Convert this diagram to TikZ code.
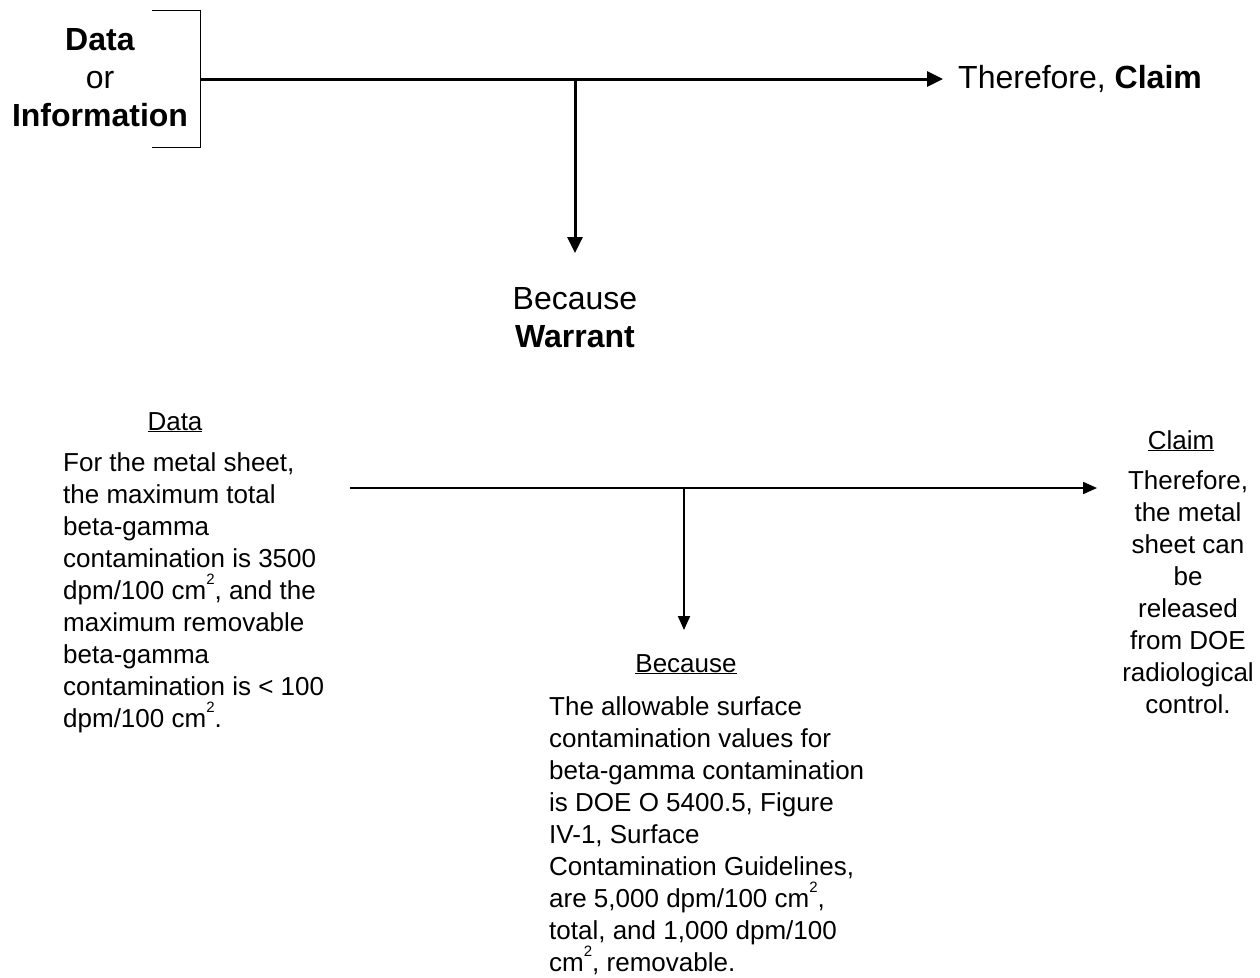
\documentclass[tikz,border=0pt]{standalone}
\usepackage{fontspec}
\setmainfont{Liberation Sans}
\usetikzlibrary{arrows.meta}
\newcommand{\sqr}{\raisebox{0.55em}{\fontsize{15}{15}\selectfont 2}}
\begin{document}
\begin{tikzpicture}[x=1pt,y=-1pt,
  big/.style={font=\fontsize{32}{38}\selectfont, inner sep=0pt, align=center},
  body/.style={font=\fontsize{26}{32}\selectfont, inner sep=0pt},
  heavy/.style={line width=3pt, -{Triangle[length=16pt,width=15pt]}},
  light/.style={line width=2pt, -{Triangle[length=14pt,width=12pt]}},
  bracket/.style={line width=1pt},
]
\useasboundingbox (0,0) rectangle (1260,977);

% ---- top, generic scheme ----
\node[big] (di) at (100,78) {\textbf{Data}\\or\\\textbf{Information}};
\coordinate (bt) at (152,10);
\coordinate (bb) at (152,147);
\coordinate (bj) at (200,79);
\draw[bracket] (bt) -- (200,10) -- (200,147) -- (bb);
\node[big, anchor=west] (cl) at (958,79) {Therefore, \textbf{Claim}};
\draw[heavy] (bj) -- ([xshift=-15pt]cl.west);
\coordinate (wj) at (575,79);
\node[big] (wa) at (575,318) {Because\\\textbf{Warrant}};
\draw[heavy] (wj) -- (wj |- 0,253) coordinate (wtip);

% ---- bottom, example ----
\node[body, anchor=base] (dh) at (175,430) {\underline{Data}};
\node[body, align=left, anchor=north west] (dt) at (63,452) {For the metal sheet,\\the maximum total\\beta-gamma\\contamination is 3500\\dpm/100 cm\sqr, and the\\maximum removable\\beta-gamma\\contamination is < 100\\dpm/100 cm\sqr.};

\node[body, anchor=base] (ch) at (1181,449) {\underline{Claim}};
\node[body, align=center, anchor=north] (ct) at (1188,470) {Therefore,\\the metal\\sheet can\\be\\released\\from DOE\\radiological\\control.};

\node[body, anchor=base] (bh) at (686,672) {\underline{Because}};
\node[body, align=left, anchor=north west] (bt2) at (549,696) {The allowable surface\\contamination values for\\beta-gamma contamination\\is DOE O 5400.5, Figure\\IV-1, Surface\\Contamination Guidelines,\\are 5,000 dpm/100 cm\sqr,\\total, and 1,000 dpm/100\\cm\sqr, removable.};

\coordinate (dj) at (350,488);
\coordinate (dend) at (1097,488);
\draw[light] (dj) -- (dend);
\coordinate (bj2) at (684,488);
\coordinate (bend) at (684,630);
\draw[light] (bj2) -- (bend);
\end{tikzpicture}
\end{document}
